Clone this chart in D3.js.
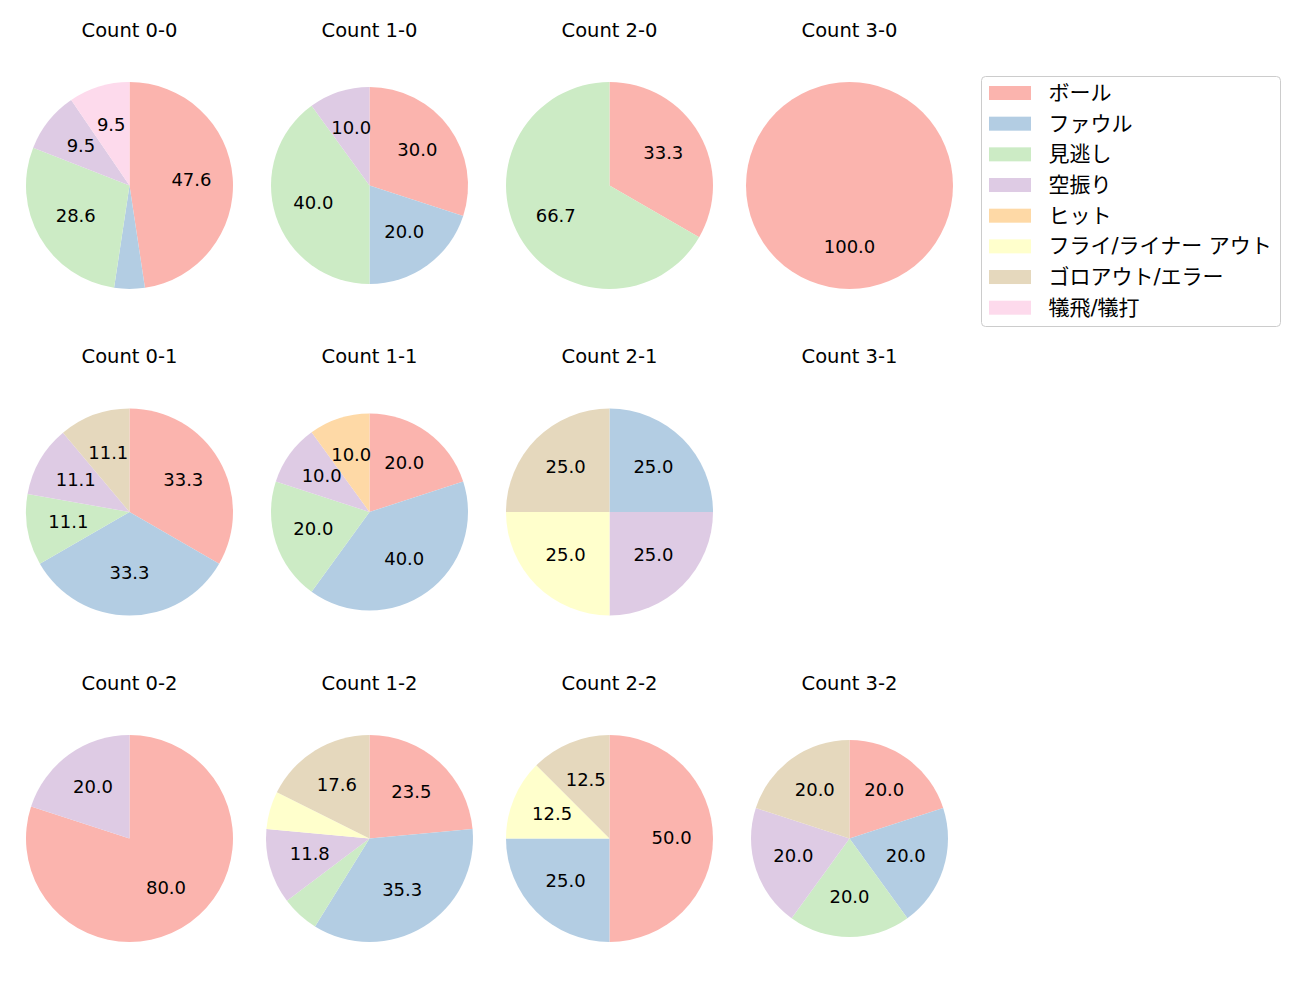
<!DOCTYPE html>
<html>
<head>
<meta charset="utf-8">
<script src="https://cdn.jsdelivr.net/npm/d3@7"></script>
<style>
  html, body { margin: 0; padding: 0; background: #fff; }
  svg { display: block; font-family: "DejaVu Sans", "Noto Sans CJK JP", sans-serif; }
</style>
</head>
<body>
<svg id="chart" width="1300" height="1000"></svg>
<script>
// ---- data ----
const categories = ["ボール", "ファウル", "見逃し", "空振り", "ヒット", "フライ/ライナー アウト", "ゴロアウト/エラー", "犠飛/犠打"];
const colors = ["#fbb4ae", "#b3cde3", "#ccebc5", "#decbe4", "#fed9a6", "#ffffcc", "#e5d8bd", "#fddaec"];
const balls = [0, 1, 2, 3];
const strikes = [0, 1, 2];
// counts per pitch result, in category order
const count00 = [10, 1, 6, 2, 0, 0, 0, 2];
const count10 = [3, 2, 4, 1, 0, 0, 0, 0];
const count20 = [1, 0, 2, 0, 0, 0, 0, 0];
const count30 = [1, 0, 0, 0, 0, 0, 0, 0];
const count01 = [3, 3, 1, 1, 0, 0, 1, 0];
const count11 = [2, 4, 2, 1, 1, 0, 0, 0];
const count21 = [0, 1, 0, 1, 0, 1, 1, 0];
const count31 = [0, 0, 0, 0, 0, 0, 0, 0];
const count02 = [4, 0, 0, 1, 0, 0, 0, 0];
const count12 = [4, 6, 1, 2, 0, 1, 3, 0];
const count22 = [4, 2, 0, 0, 0, 1, 1, 0];
const count32 = [1, 1, 1, 1, 0, 0, 1, 0];

const panelValues = {
  "0-0": count00, "1-0": count10, "2-0": count20, "3-0": count30,
  "0-1": count01, "1-1": count11, "2-1": count21, "3-1": count31,
  "0-2": count02, "1-2": count12, "2-2": count22, "3-2": count32
};

// ---- layout ----
const svg = d3.select("#chart");
const xPos = d3.scalePoint().domain(balls).range([129.5, 849.5]);
const yPos = d3.scalePoint().domain(strikes).range([185.5, 838.5]);
const rFull = 103.5, rSmall = 98.5;
const smallPanels = new Set(["1-0", "1-1", "3-2"]);
const color = d3.scaleOrdinal().domain(categories).range(colors);
const pie = d3.pie().sort(null).value(d => d.v);

strikes.forEach(s => {
  balls.forEach(b => {
    const key = b + "-" + s;
    const vals = panelValues[key];
    const cx = xPos(b), cy = yPos(s);
    svg.append("text")
      .attr("x", cx).attr("y", cy - 149)
      .attr("text-anchor", "middle")
      .attr("font-size", 19.5)
      .attr("fill", "#000")
      .text("Count " + key);
    const total = d3.sum(vals);
    if (total === 0) return;
    const r = smallPanels.has(key) ? rSmall : rFull;
    const g = svg.append("g").attr("transform", `translate(${cx},${cy})`);
    const data = categories.map((c, i) => ({ c, v: vals[i] })).filter(d => d.v > 0);
    const arcs = pie(data);
    const arc = d3.arc().innerRadius(0).outerRadius(r);
    g.selectAll("path").data(arcs).join("path")
      .attr("d", arc)
      .attr("fill", d => color(d.data.c));
    g.selectAll("text").data(arcs.filter(d => d.data.v / total * 100 >= 7)).join("text")
      .attr("transform", d => {
        const a = (d.startAngle + d.endAngle) / 2;
        return `translate(${Math.sin(a) * r * 0.6},${-Math.cos(a) * r * 0.6})`;
      })
      .attr("text-anchor", "middle")
      .attr("dominant-baseline", "central")
      .attr("dy", -1.5)
      .attr("font-size", 18)
      .attr("fill", "#000")
      .text(d => (d.data.v / total * 100).toFixed(1));
  });
});

// ---- legend ----
const legend = svg.append("g").attr("transform", "translate(981.5,76.5)");
legend.append("rect")
  .attr("width", 299).attr("height", 250)
  .attr("rx", 4).attr("ry", 4)
  .attr("fill", "#fff").attr("fill-opacity", 0.8)
  .attr("stroke", "#cccccc").attr("stroke-width", 1);
const ly = d3.scalePoint().domain(categories).range([16.5, 231.2]);
const items = legend.selectAll("g.item").data(categories).join("g")
  .attr("class", "item")
  .attr("transform", d => `translate(0,${ly(d)})`);
items.append("rect")
  .attr("x", 7.5).attr("y", -7).attr("width", 42).attr("height", 14)
  .attr("fill", d => color(d));
items.append("text")
  .attr("x", 67).attr("y", 0)
  .attr("dominant-baseline", "central")
  .attr("font-size", 21)
  .attr("fill", "#000")
  .text(d => d);
</script>
</body>
</html>
